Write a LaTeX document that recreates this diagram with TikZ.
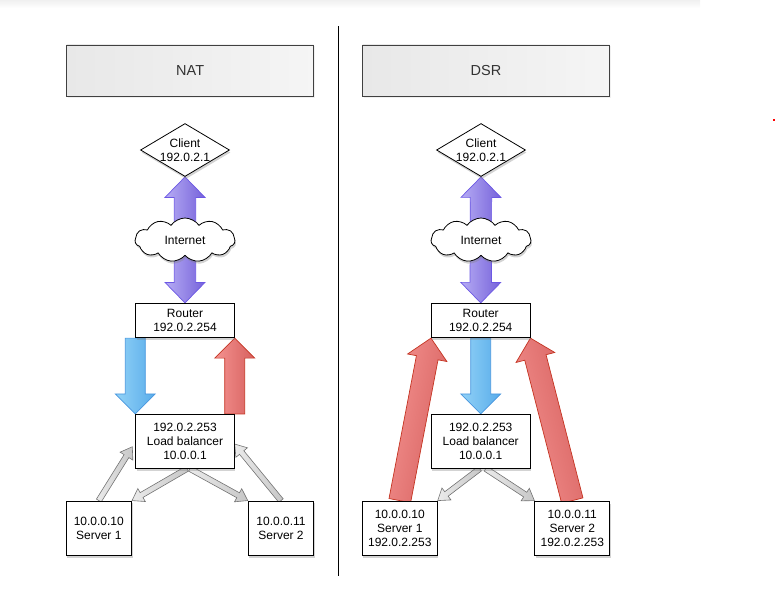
\documentclass[tikz,border=0pt]{standalone}
\usepackage{fontspec}
\setmainfont{Liberation Sans}
\usetikzlibrary{calc,shapes.geometric,shapes.symbols,shadows,backgrounds}

\definecolor{purpleL}{RGB}{182,172,244}
\definecolor{purpleR}{RGB}{118,98,218}
\definecolor{purpleE}{RGB}{108,88,228}
\definecolor{blueL}{RGB}{146,210,247}
\definecolor{blueR}{RGB}{88,172,234}
\definecolor{blueE}{RGB}{72,150,222}
\definecolor{redL}{RGB}{244,146,144}
\definecolor{redR}{RGB}{214,96,94}
\definecolor{redE}{RGB}{196,52,34}

% fat arrow: [style]{half shaft}{half head}{head length}{from}{to}
\newcommand{\fatarrow}[6][]{%
  \coordinate (fa-b) at ($(#6)!#4!(#5)$);
  \path[#1] ($(#5)!#2!90:(#6)$) -- ($(fa-b)!#2!90:(#6)$) -- ($(fa-b)!#3!90:(#6)$)
    -- (#6) -- ($(fa-b)!#3!-90:(#6)$) -- ($(fa-b)!#2!-90:(#6)$)
    -- ($(#5)!#2!-90:(#6)$) -- cycle;}
% same, with a head at both ends
\newcommand{\fatdarrow}[6][]{%
  \coordinate (fa-a) at ($(#5)!#4!(#6)$);
  \coordinate (fa-b) at ($(#6)!#4!(#5)$);
  \path[#1] (#5) -- ($(fa-a)!#3!90:(#6)$) -- ($(fa-a)!#2!90:(#6)$)
    -- ($(fa-b)!#2!90:(#6)$) -- ($(fa-b)!#3!90:(#6)$) -- (#6)
    -- ($(fa-b)!#3!-90:(#6)$) -- ($(fa-b)!#2!-90:(#6)$)
    -- ($(fa-a)!#2!-90:(#6)$) -- ($(fa-a)!#3!-90:(#6)$) -- cycle;}

\tikzset{
  txt/.style={align=center, font=\fontsize{12}{14}\selectfont},
  headbox/.style={draw=black!75, line width=0.8pt, left color=black!9, right color=black!4,
    minimum width=247pt, minimum height=51.7pt, font=\fontsize{14.5}{17}\selectfont, text=black!80,
    drop shadow={opacity=0.12, shadow xshift=1.5pt, shadow yshift=-1.5pt}},
  netbox/.style={txt, draw, line width=0.8pt, fill=white, inner sep=1pt,
    drop shadow={opacity=0.35, shadow xshift=1pt, shadow yshift=-2.5pt}},
  router/.style={netbox, minimum width=98.6pt, minimum height=34.4pt},
  lb/.style={netbox, minimum width=98.6pt, minimum height=54pt},
  server/.style={netbox, minimum width=65.7pt, minimum height=54.7pt},
  dserver/.style={netbox, minimum width=75pt, minimum height=54pt},
  client/.style={diamond, draw, line width=0.8pt, fill=white, inner sep=0pt,
    minimum width=89pt, minimum height=53pt,
    drop shadow={opacity=0.35, shadow xshift=1pt, shadow yshift=-2.5pt}},
  cloudbox/.style={cloud, cloud puffs=11, cloud puff arc=110, cloud ignores aspect,
    draw, line width=0.8pt, fill=white, inner sep=0pt, minimum width=100pt, minimum height=44pt,
    drop shadow={opacity=0.35, shadow xshift=1pt, shadow yshift=-2.5pt}},
  purplearrow/.style={left color=purpleL, right color=purpleR, draw=purpleE, line width=0.7pt},
  bluearrow/.style={left color=blueL, right color=blueR, draw=blueE, line width=0.7pt},
  redarrow/.style={left color=redL, right color=redR, draw=redE, line width=0.7pt},
  grayarrow/.style={left color=black!8, right color=black!22, draw=black!55, line width=0.6pt}
}

\begin{document}
\begin{tikzpicture}[x=1pt, y=-1pt]
\useasboundingbox (0,0) rectangle (775,598);
\shade[top color=black!6, middle color=black!14, bottom color=white] (0,0) rectangle (700,8);
\draw[line width=0.8pt] (338,26) -- (338,576);
\fill[red] (773,119) rectangle (775,121);

% NAT
\node[headbox] (nat) at (190.2,70.8) {NAT};
\node[client, label={[name=client1-t, txt]center:Client\\192.0.2.1}] (client1) at (185,150) {};
\node[cloudbox, label={[name=net1-t, txt]center:Internet}] (net1) at (185,240) {};
\node[router] (router1) at (185,320.5) {Router\\192.0.2.254};
\node[lb] (lb1) at (185,441.3) {192.0.2.253\\Load balancer\\10.0.0.1};
\node[server] (srv1) at (98.8,528.3) {10.0.0.10\\Server 1};
\node[server] (srv2) at (281,528.3) {10.0.0.11\\Server 2};

% DSR
\node[headbox] (dsr) at (486,70.8) {DSR};
\node[client, label={[name=client2-t, txt]center:Client\\192.0.2.1}] (client2) at (481,150) {};
\node[cloudbox, label={[name=net2-t, txt]center:Internet}] (net2) at (481,240) {};
\node[router] (router2) at (480.7,320.5) {Router\\192.0.2.254};
\node[lb] (lb2) at (480.7,441.3) {192.0.2.253\\Load balancer\\10.0.0.1};
\node[dserver] (srv3) at (399.8,528) {10.0.0.10\\Server 1\\192.0.2.253};
\node[dserver] (srv4) at (572.3,528) {10.0.0.11\\Server 2\\192.0.2.253};

\coordinate (lb1-w) at ($(lb1.south west)!0.4!(lb1.north west)+(-3,0)$);
\coordinate (lb1-e) at ($(lb1.south east)!0.45!(lb1.north east)$);
\coordinate (lb1-s1) at ($(lb1.south)+(2,0)$);
\coordinate (lb1-s2) at ($(lb1.south)+(5,0)$);
\coordinate (lb2-s1) at ($(lb2.south)+(-1,0)$);
\coordinate (lb2-s2) at ($(lb2.south)+(5,0)$);

\begin{pgfonlayer}{background}
\fatdarrow[purplearrow]{10.7pt}{20pt}{20.5pt}{client1.south}{router1.north}
\fatarrow[bluearrow]{10pt}{20pt}{20pt}{router1.south west}{lb1.north west}
\fatarrow[redarrow]{10pt}{20pt}{20pt}{lb1.north east}{router1.south east}
\fatarrow[grayarrow]{2.8pt}{7.5pt}{11pt}{srv1.north}{lb1-w}
\fatarrow[grayarrow]{2.8pt}{7.5pt}{11pt}{lb1-s1}{srv1.north east}
\fatarrow[grayarrow]{2.8pt}{7.5pt}{11pt}{lb1-s2}{srv2.north west}
\fatarrow[grayarrow]{2.8pt}{7.5pt}{11pt}{srv2.north}{lb1-e}

\fatdarrow[purplearrow]{10.7pt}{20pt}{20.5pt}{client2.south}{router2.north}
\fatarrow[bluearrow]{10pt}{20pt}{20pt}{router2.south}{lb2.north}
\fatarrow[redarrow, shading angle=79]{11pt}{20pt}{20pt}{srv3.north}{router2.south west}
\fatarrow[redarrow, shading angle=104]{11pt}{20pt}{20pt}{srv4.north}{router2.south east}
\fatarrow[grayarrow]{2.8pt}{7.5pt}{11pt}{lb2-s1}{srv3.north east}
\fatarrow[grayarrow]{2.8pt}{7.5pt}{11pt}{lb2-s2}{srv4.north west}
\end{pgfonlayer}
\end{tikzpicture}
\end{document}
